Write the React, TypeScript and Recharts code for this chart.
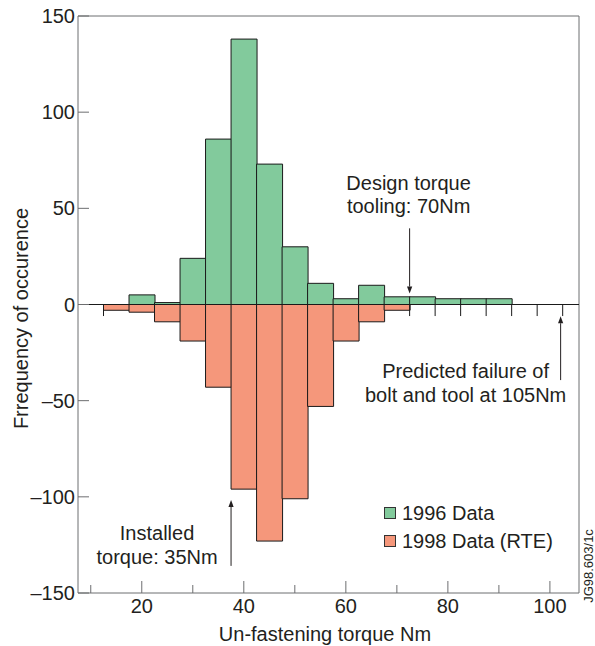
import { ComposedChart, Bar, XAxis, YAxis, ReferenceLine, Legend } from "recharts";

const FONT = '"Liberation Sans", Arial, Helvetica, sans-serif';
const INK = "#231f20";
const AXIS = "#6d6e70";
const EDGE = "#1a1a1a";
const GREEN = "#82ca9c";
const ORANGE = "#f5977b";

// bin centres (Nm), 5 Nm wide
const torqueBins = [15, 20, 25, 30, 35, 40, 45, 50, 55, 60, 65, 70, 75, 80, 85, 90];
const freq1996 = [null, 5, 1, 24, 86, 138, 73, 30, 11, 3, 10, 4, 4, 3, 3, 3];
const freq1998 = [-3, -4, -9, -19, -43, -96, -123, -101, -53, -19, -9, -3, null, null, null, null];

const xTicks = [10, 20, 30, 40, 50, 60, 70, 80, 90, 100];
const majorXTicks = [20, 40, 60, 80, 100];
const yTicks = [-150, -100, -50, 0, 50, 100, 150];
const binEdgeMarks = [12.5, 72.5, 77.5, 82.5, 87.5, 92.5, 97.5, 102.5];

const rows = torqueBins.map((x, i) => ({ x, d1996: freq1996[i], d1998: freq1998[i] }));

// arrows with their captions (dx / dy are caption offsets from the arrow tail)
const annotations = [
  { from: { x: 72.5, y: 39.6 }, to: { x: 72.5, y: 5.7 }, lines: ["Design torque", "tooling: 70Nm"], dx: -1, dy: [-38.7, -15.3] },
  { from: { x: 102.1, y: -39.3 }, to: { x: 102.1, y: -6.1 }, lines: ["Predicted failure of", "bolt and tool at 105Nm"], dx: -95, dy: [-2.3, 21.7] },
  { from: { x: 37.5, y: -135.9 }, to: { x: 37.5, y: -101.6 }, lines: ["Installed", "torque: 35Nm"], dx: -74, dy: [-26, -2] },
];

const fmt = (v: number) => (v < 0 ? `\u2013${Math.abs(v)}` : `${v}`);

const XTick = (props: any) => {
  const { x, y, payload } = props;
  const major = majorXTicks.includes(payload.value);
  return (
    <g>
      <line x1={x} x2={x} y1={y} y2={y - (major ? 12 : 8)} stroke={AXIS} />
      {major && (
        <text x={x} y={y + 20} textAnchor="middle" fontSize={20} fill={INK} fontFamily={FONT}>
          {payload.value}
        </text>
      )}
    </g>
  );
};

const YTick = (props: any) => {
  const { x, y, payload } = props;
  return (
    <g>
      <line x1={x} x2={x + 11} y1={y} y2={y} stroke={AXIS} />
      <text x={x - 3} y={y + 7} textAnchor="end" fontSize={20} fill={INK} fontFamily={FONT}>
        {fmt(payload.value)}
      </text>
    </g>
  );
};

const YLabel = () => (
  <text
    x={28}
    y={318.5}
    transform="rotate(-90, 28, 318.5)"
    textAnchor="middle"
    fontSize={20}
    fill={INK}
    fontFamily={FONT}
  >
    Frrequency of occurence
  </text>
);

const XLabel = () => (
  <text x={325} y={641} textAnchor="middle" fontSize={20} fill={INK} fontFamily={FONT}>
    Un-fastening torque Nm
  </text>
);

const arrowShape = (a: (typeof annotations)[number]) => (p: any) => {
  const { x1, y1, x2, y2 } = p;
  const ang = Math.atan2(y2 - y1, x2 - x1);
  const len = 7;
  const hw = 2.6;
  const bx = x2 - len * Math.cos(ang);
  const by = y2 - len * Math.sin(ang);
  const nx = -Math.sin(ang) * hw;
  const ny = Math.cos(ang) * hw;
  return (
    <g>
      <line x1={x1} y1={y1} x2={bx} y2={by} stroke={INK} strokeWidth={1} />
      <polygon points={`${x2},${y2} ${bx + nx},${by + ny} ${bx - nx},${by - ny}`} fill={INK} />
      {a.lines.map((t, i) => (
        <text key={t} x={x1 + a.dx} y={y1 + a.dy[i]} textAnchor="middle" fontSize={20} fill={INK} fontFamily={FONT}>
          {t}
        </text>
      ))}
    </g>
  );
};

const renderLegend = (props: any) => (
  <div style={{ fontFamily: FONT, fontSize: 20, color: INK }}>
    {(props.payload || []).map((p: any) => (
      <div key={p.value} style={{ display: "flex", alignItems: "center", height: 28 }}>
        <span
          style={{
            display: "inline-block",
            width: 10,
            height: 10,
            background: p.color,
            border: "1px solid #333",
            marginRight: 6,
          }}
        />
        {p.value}
      </div>
    ))}
  </div>
);

export default function App() {
  return (
    <div style={{ position: "absolute", left: 0, top: 0, width: 595, height: 646, background: "#fff" }}>
      <ComposedChart
        width={595}
        height={646}
        data={rows}
        margin={{ top: 16, right: 16, left: 0, bottom: 0 }}
        stackOffset="sign"
        barCategoryGap={0}
        barGap={0}
      >
        <XAxis
          dataKey="x"
          type="number"
          domain={[7.5, 105.7]}
          allowDataOverflow
          ticks={xTicks}
          interval={0}
          height={53}
          tickSize={0}
          tickMargin={0}
          tickLine={false}
          axisLine={{ stroke: AXIS }}
          tick={<XTick />}
          label={<XLabel />}
        />
        <YAxis
          type="number"
          domain={[-150, 150]}
          allowDataOverflow
          ticks={yTicks}
          interval={0}
          width={78}
          tickSize={0}
          tickMargin={0}
          tickLine={false}
          axisLine={{ stroke: AXIS }}
          tick={<YTick />}
          label={<YLabel />}
        />
        <Bar dataKey="d1996" name="1996 Data" stackId="t" fill={GREEN} stroke={EDGE} strokeWidth={1} isAnimationActive={false} />
        <Bar dataKey="d1998" name="1998 Data (RTE)" stackId="t" fill={ORANGE} stroke={EDGE} strokeWidth={1} isAnimationActive={false} />
        <ReferenceLine y={150} stroke={AXIS} />
        <ReferenceLine x={105.7} stroke={AXIS} />
        <ReferenceLine y={0} stroke={EDGE} />
        {binEdgeMarks.map((e) => (
          <ReferenceLine key={e} segment={[{ x: e, y: 0 }, { x: e, y: -6 }]} stroke={EDGE} />
        ))}
        {annotations.map((a, i) => (
          <ReferenceLine key={i} segment={[a.from, a.to]} shape={arrowShape(a)} />
        ))}
        <Legend
          layout="vertical"
          verticalAlign="middle"
          align="center"
          wrapperStyle={{ left: 384, top: 499, width: 200 }}
          content={renderLegend}
        />
      </ComposedChart>
      <div
        style={{
          position: "absolute",
          left: 588,
          top: 566,
          transform: "translate(-50%, -50%) rotate(-90deg)",
          fontSize: 13,
          fontFamily: FONT,
          color: INK,
          whiteSpace: "nowrap",
        }}
      >
        JG98.603/1c
      </div>
    </div>
  );
}
